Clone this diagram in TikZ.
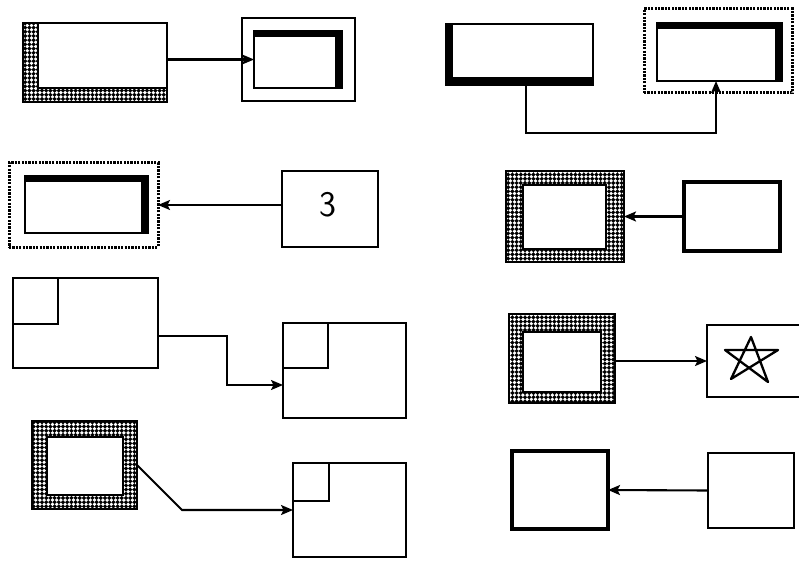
\documentclass[tikz,border=0pt]{standalone}
\usetikzlibrary{arrows.meta,patterns,fit}

% white dots on a black ground
\pgfdeclarepatternformonly{whitedots}{\pgfpoint{-0.1pt}{-0.1pt}}{\pgfpoint{4.3pt}{4.3pt}}{\pgfpoint{4.2pt}{4.2pt}}%
  {\pgfpathcircle{\pgfpoint{2.1pt}{2.1pt}}{1.85pt}\pgfusepath{fill}}

\begin{document}
\begin{tikzpicture}[x=1pt,y=-1pt,
  box/.style={rectangle, draw, inner sep=0pt, outer sep=0pt, line width=2.2pt},
  thickbox/.style={box, line width=4pt},
  heavybox/.style={box, line width=2.8pt},
  dotbox/.style={box, line width=3pt, dash pattern=on 2.2pt off 1.2pt},
  bandbox/.style={box, line width=2.4pt, preaction={fill=black},
    preaction={pattern=whitedots, pattern color=white}},
  innerbox/.style={box, fill=white},
  dots/.style={fill=black, postaction={pattern=whitedots, pattern color=white}},
  heavytr/.style={box, path picture={
    \fill ([yshift=-6.5pt]path picture bounding box.north west) rectangle (path picture bounding box.north east);
    \fill ([xshift=-7pt]path picture bounding box.south east) rectangle (path picture bounding box.north east);}},
  heavybl/.style={box, path picture={
    \fill (path picture bounding box.north west) rectangle ([xshift=7pt]path picture bounding box.south west);
    \fill ([yshift=8pt]path picture bounding box.south west) rectangle (path picture bounding box.south east);}},
  arr/.style={line width=2.1pt, -{Stealth[length=12pt,width=10pt,inset=2.5pt]}},
]
\useasboundingbox (0,0) rectangle (799,561);
\clip (0,0) rectangle (799,561);

% ---- row 1, left pair
\node[box, fit={(23,23) (167,102)}, path picture={
  \path[dots]
    (path picture bounding box.north west) rectangle ([xshift=15pt]path picture bounding box.south west)
    ([yshift=14pt]path picture bounding box.south west) rectangle (path picture bounding box.south east);
  \draw[line width=1.6pt] ([xshift=15pt]path picture bounding box.north west)
    |- ([yshift=14pt]path picture bounding box.south east);
}] (a1) {};
\node[box, fit={(242,18) (355,101)}] (a2) {};
\node[heavytr, fit={(254,31) (342,88)}] (a2i) {};
\draw[arr] (a1.east |- a2i.west) -- (a2i.west);

% ---- row 1, right pair
\node[heavybl, fit={(446,24) (593,85)}] (b1) {};
\node[dotbox, fit={(644,9) (792,93)}] (b2) {};
\node[heavytr, fit={(657,23) (782,81)}] (b2i) {};
\coordinate (b-low) at (620,133);
\draw[arr] ([xshift=6.5pt]b1.south) |- (b-low) -| ([xshift=-3.5pt]b2i.south);

% ---- row 2, left pair
\node[dotbox, fit={(9,163) (158,247)}] (c1) {};
\node[heavytr, fit={(25,176) (148,233)}] (c1i) {};
\node[box, fit={(282,171) (378,247)}] (c2) {};
\node[font=\sffamily\fontsize{36}{36}\selectfont, inner sep=0pt] (c2t) at ([xshift=-2pt,yshift=4pt]c2.center) {3};
\draw[arr] (c1.east -| c2.west) -- (c1.east);

% ---- row 2, right pair
\node[bandbox, fit={(506,171) (624,262)}] (d1) {};
\node[innerbox, fit={(523,185) (606,249)}] (d1i) {};
\node[thickbox, line width=3.6pt, fit={(684,182) (780,251)}] (d2) {};
\draw[arr] (d2.west) -- (d1.east);

% ---- row 3, left pair
\node[box, fit={(13,278) (158,368)}] (e1) {};
\node[box, fit={(13,278) (58,324)}] (e1i) {};
\node[box, fit={(283,323) (406,418)}] (e2) {};
\node[box, fit={(283,323) (328,368)}] (e2i) {};
\coordinate (e-mid) at (227,360);
\draw[arr] ([yshift=-13pt]e1.east) -| (e-mid) |- ([yshift=-14.5pt]e2.west);

% ---- row 3, right pair
\node[bandbox, fit={(509,314) (615,403)}] (f1) {};
\node[innerbox, fit={(523,332) (601,392)}] (f1i) {};
\node[box, fit={(707,325) (812,397)}] (f2) {};
\draw[line width=2.3pt, line join=round]
  (751,337) -- (731,379) -- (778,350) -- (725,350) -- (768,382) -- cycle;
\draw[arr] (f1.east |- f2.west) -- (f2.west);

% ---- row 4, left pair
\node[bandbox, fit={(32,421) (137,509)}] (g1) {};
\node[innerbox, fit={(47,437) (123,495)}] (g1i) {};
\node[box, fit={(293,463) (406,557)}] (g2) {};
\node[box, fit={(293,463) (329,501)}] (g2i) {};
\coordinate (g-knee) at (182,510);
\draw[arr] (g1.east) -- (g-knee) -- (g2.west);

% ---- row 4, right pair
\node[thickbox, line width=4.6pt, fit={(512,451) (608,529)}] (h1) {};
\node[heavybox, fit={(708,453) (794,528)}] (h2) {};
\draw[arr] (h2.west) -- (h1.east);
\end{tikzpicture}
\end{document}
